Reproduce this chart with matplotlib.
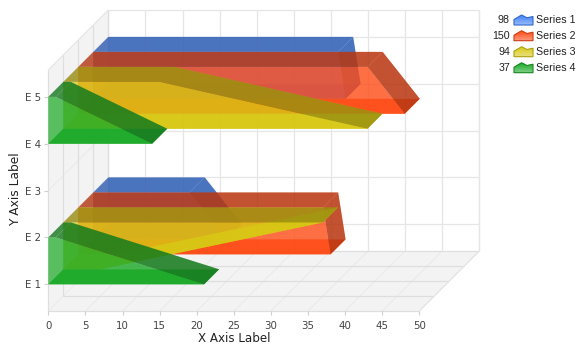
import numpy as np
import matplotlib
matplotlib.use("Agg")
import matplotlib.pyplot as plt
from matplotlib.patches import Polygon

categories = ["E 1", "E 2", "E 3", "E 4", "E 5"]
series_names = ["Series 1", "Series 2", "Series 3", "Series 4"]
series_1 = [18, 13, None, 34, 33]
series_2 = [34, 33, None, 44, 39]
series_3 = [5, 35, None, 41, 13]
series_4 = [21, 1, None, 14, 1]
x_ticks = list(range(0, 55, 5))

colors = ["#4082FA", "#FF4C17", "#D7C814", "#1CAA28"]
all_series = [series_1, series_2, series_3, series_4]

W, H = 584, 352
L, R, T, B = 48.3, 419.3, 70.0, 311.0
XMAX = 50
YMIN, YMAX = 0.43, 5.574
STEP_PX = 15.0
px_x = (R - L) / XMAX
px_y = (B - T) / (YMAX - YMIN)
DX = STEP_PX / px_x
DY = STEP_PX / px_y

fig = plt.figure(figsize=(W / 100, H / 100), dpi=100, facecolor="white")
ax = fig.add_axes([L / W, 1 - B / H, (R - L) / W, (B - T) / H])
ax.set_xlim(0, XMAX)
ax.set_ylim(YMIN, YMAX)
ax.patch.set_visible(False)
for s in ax.spines.values():
    s.set_visible(False)


def pr(x, y, d):
    return (x + d * DX, y + d * DY)


def poly(pts, color, alpha=1.0, z=2, ec="none", lw=0):
    ax.add_patch(Polygon(pts, closed=True, facecolor=color, alpha=alpha, zorder=z,
                         edgecolor=ec, linewidth=lw, clip_on=False))


def line(a, b, color="#E6E6E6", lw=0.9, z=1):
    ax.plot([a[0], b[0]], [a[1], b[1]], color=color, lw=lw, zorder=z, clip_on=False,
            solid_capstyle="butt")


ndepth = len(all_series)
yvals = np.arange(1, len(categories) + 1)

# walls
poly([pr(0, YMIN, 0), pr(0, YMAX, 0), pr(0, YMAX, ndepth), pr(0, YMIN, ndepth)], "#F3F3F3", z=0)
poly([pr(0, YMIN, 0), pr(XMAX, YMIN, 0), pr(XMAX, YMIN, ndepth), pr(0, YMIN, ndepth)], "#F3F3F3", z=0)
GRID = "#E6E6E6"
FAINT = "#E9E9E9"
EDGE = "#DEDEDE"
for xv in x_ticks:
    line(pr(xv, YMIN, ndepth), pr(xv, YMAX, ndepth), GRID)
    line(pr(xv, YMIN, 0), pr(xv, YMIN, ndepth), FAINT, 0.7)
for yv in yvals:
    line(pr(0, yv, ndepth), pr(XMAX, yv, ndepth), GRID)
    line(pr(0, yv, 0), pr(0, yv, ndepth), FAINT, 0.7)
for d in range(0, ndepth + 1):
    line(pr(0, YMIN, d), pr(XMAX, YMIN, d), EDGE)
    line(pr(0, YMIN, d), pr(0, YMAX, d), EDGE)
line(pr(0, YMAX, 0), pr(0, YMAX, ndepth), GRID)
line(pr(0, YMAX, ndepth), pr(XMAX, YMAX, ndepth), GRID)
line(pr(XMAX, YMAX, ndepth), pr(XMAX, YMIN, ndepth), GRID)
line(pr(XMAX, YMIN, 0), pr(XMAX, YMIN, ndepth), GRID)


def segments(vals):
    out, cur = [], []
    for yv, v in zip(yvals, vals):
        if v is None:
            if cur:
                out.append(cur)
            cur = []
        else:
            cur.append((v, yv))
    if cur:
        out.append(cur)
    return out


def darken(c, f=0.7):
    r = matplotlib.colors.to_rgb(c)
    return tuple(v * f for v in r)


for i, (vals, col) in enumerate(zip(all_series, colors)):
    near = ndepth - 1 - i
    far = near + 1
    z = 3 + i * 5
    dark = darken(col)
    for seg in segments(vals):
        y0, yn = seg[0][1], seg[-1][1]
        outline = [(0, y0)] + seg + [(0, yn)]
        poly([pr(x, y, far) for x, y in outline], col, 0.3, z)
        v0 = seg[0][0]
        poly([pr(0, y0, near), pr(v0, y0, near), pr(v0, y0, far), pr(0, y0, far)], col, 0.9, z + 1)
        for (x1, y1), (x2, y2) in zip(seg[:-1], seg[1:]):
            face = [pr(x1, y1, near), pr(x2, y2, near), pr(x2, y2, far), pr(x1, y1, far)]
            if (y2 - y1) * px_y <= (x2 - x1) * px_x:
                poly(face, col, 0.9, z + 1)      # slant faces away from the viewer
            else:
                poly(face, dark, 0.8, z + 3)
        poly([pr(x, y, near) for x, y in outline], col, 0.72, z + 2)
        vn = seg[-1][0]
        poly([pr(0, yn, near), pr(vn, yn, near), pr(vn, yn, far), pr(0, yn, far)], dark, 0.8, z + 3)

TICKC = "#444444"
ax.set_xticks(x_ticks)
ax.set_xticklabels([str(v) for v in x_ticks])
ax.set_yticks(yvals)
ax.set_yticklabels(categories)
ax.tick_params(axis="x", length=3, width=0.8, color="#D0D0D0", labelcolor=TICKC,
               labelsize=7.4, pad=4)
ax.tick_params(axis="y", length=3, width=0.8, color="#D0D0D0", labelcolor=TICKC,
               labelsize=7.4, pad=2)
fig.text(234 / W, 1 - 338 / H, "X Axis Label", ha="center", va="center", fontsize=8.6, color="#222222")
fig.text(16 / W, 1 - 189 / H, "Y Axis Label", ha="center", va="center", rotation=90, fontsize=8.8, color="#222222")

# legend
leg_y = [20, 35.7, 51.7, 67.7]
totals = [sum(v for v in s if v is not None) for s in all_series]
shape_x = [0, 0, 0.4, 0.68, 1, 1]
shape_y = [0, 0.55, 1, 0.72, 0.85, 0]
for yy, name, tot, col in zip(leg_y, series_names, totals, colors):
    fig.text(510 / W, 1 - yy / H, str(tot), ha="right", va="center", fontsize=7.7, color="#222222",
             family="Liberation Sans")
    fig.text(536.5 / W, 1 - yy / H, name, ha="left", va="center", fontsize=7.7, color="#222222",
             family="Liberation Sans")
    sw = fig.add_axes([514 / W, 1 - (yy + 5) / H, 19 / W, 10 / H])
    sw.set_xlim(0, 1)
    sw.set_ylim(0, 1)
    sw.axis("off")
    base = np.array(matplotlib.colors.to_rgb(col))
    grad = np.linspace(0, 1, 32)[:, None, None] * (1 - base) * 0.45 + base
    im = sw.imshow(np.repeat(grad, 2, axis=1), extent=(0, 1, 0, 1), aspect="auto", origin="upper")
    pg = Polygon(list(zip(shape_x, shape_y)), closed=True, facecolor="none",
                 edgecolor=darken(col, 0.8), linewidth=0.8, clip_on=False)
    sw.add_patch(pg)
    im.set_clip_path(pg)

fig.savefig("out.png", dpi=100)
